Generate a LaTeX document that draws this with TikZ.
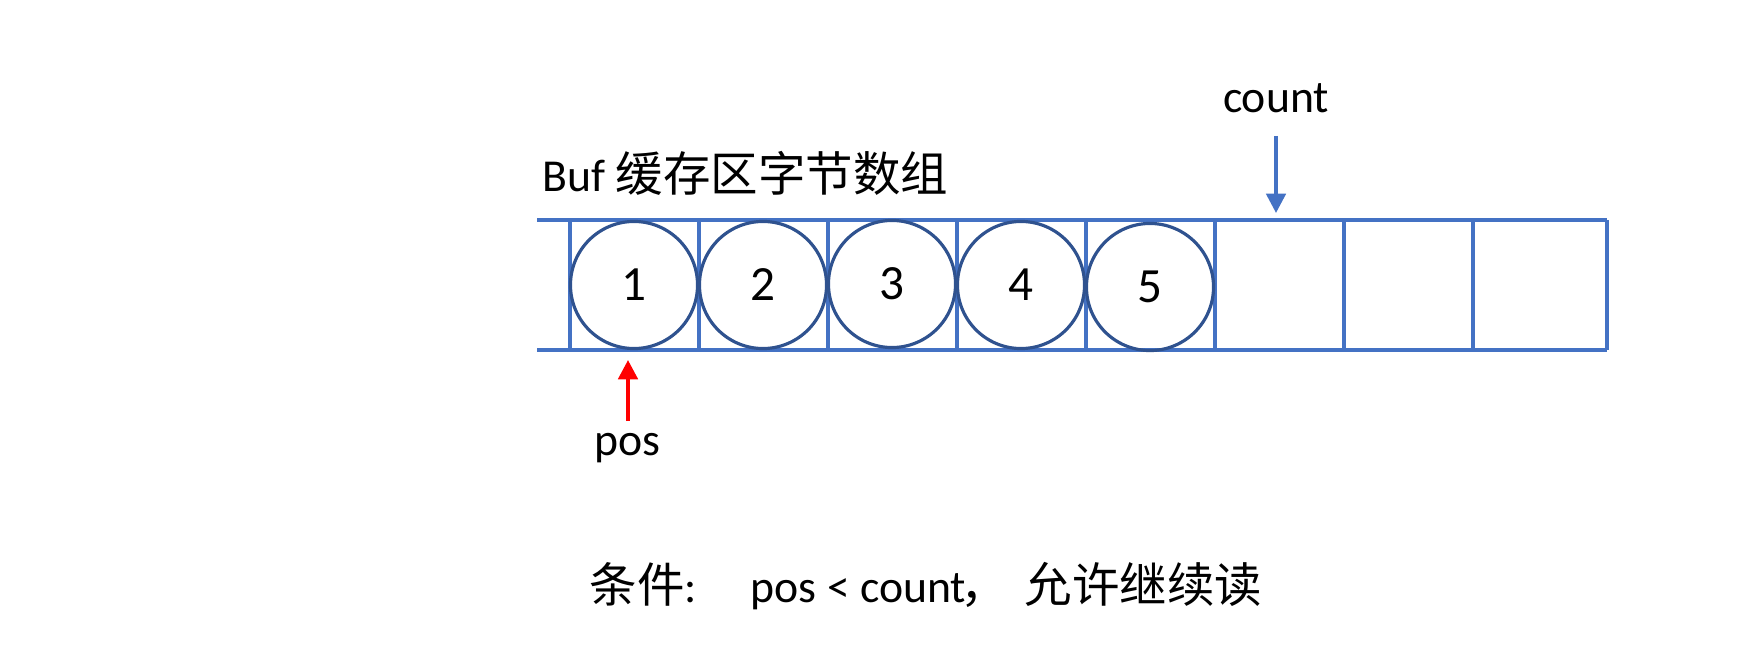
\documentclass[tikz,border=0pt]{standalone}
\usepackage{fontspec}
\setmainfont{Carlito}
\newfontfamily\cjk{Noto Sans CJK SC}
\usetikzlibrary{arrows.meta}
\definecolor{gridblue}{HTML}{4472C4}
\definecolor{circblue}{HTML}{2F528F}
\definecolor{arrred}{HTML}{FF0000}
\tikzset{
  gridline/.style={draw=gridblue, line width=1.05pt},
  ball/.style={circle, draw=circblue, line width=0.9pt, minimum size=1.27cm, inner sep=0pt, font=\fontsize{14}{16}\selectfont},
  lbl/.style={inner sep=0pt, anchor=base, font=\fontsize{13}{15}\selectfont},
  cntarrow/.style={draw=gridblue, line width=1.05pt, -{Triangle[length=5.5pt,width=5.5pt]}},
  posarrow/.style={draw=arrred, line width=1.1pt, -{Triangle[length=5.5pt,width=5.5pt]}},
}
\begin{document}
\begin{tikzpicture}[x=0.01cm,y=-0.01cm]
\useasboundingbox (0,0) rectangle (1748,670);
% grid
\draw[gridline] (537,220) -- (1607,220);
\draw[gridline] (537,350) -- (1607,350);
\foreach \x in {570,699,828,957,1086,1215,1344,1473,1607}
  \draw[gridline] (\x,220) -- (\x,350);
% balls
\node[ball] (c1) at (634,285) {1};
\node[ball] (c2) at (763,285) {2};
\node[ball] (c3) at (892,284) {3};
\node[ball] (c4) at (1021,285) {4};
\node[ball] (c5) at (1150,287) {5};
% labels
\node[lbl, anchor=base west] (buf) at (542,192) {Buf {\cjk\fontsize{13.5}{15}\selectfont 缓存区字节数组}};
\node[lbl] (count) at (1276,113) {count};
\node[lbl] (pos) at (627,455) {pos};
\coordinate (ctail) at (1276,136);
\coordinate (ctip) at (1276,213);
\draw[cntarrow] (ctail) -- (ctip);
\coordinate (ptail) at (628,421);
\coordinate (ptip) at (628,360);
\draw[posarrow] (ptail) -- (ptip);
% bottom condition
\node[lbl, anchor=base west] (cond1) at (589,602) {{\cjk\fontsize{13.5}{15}\selectfont 条件}:};
\node[lbl, anchor=base west] (cond2) at (750,602) {pos < count\kern-0.12em{\cjk\fontsize{13.5}{15}\selectfont ，}};
\node[lbl, anchor=base east] (cond3) at (1263,602) {{\cjk\fontsize{13.5}{15}\selectfont 允许继续读}};
\end{tikzpicture}
\end{document}
